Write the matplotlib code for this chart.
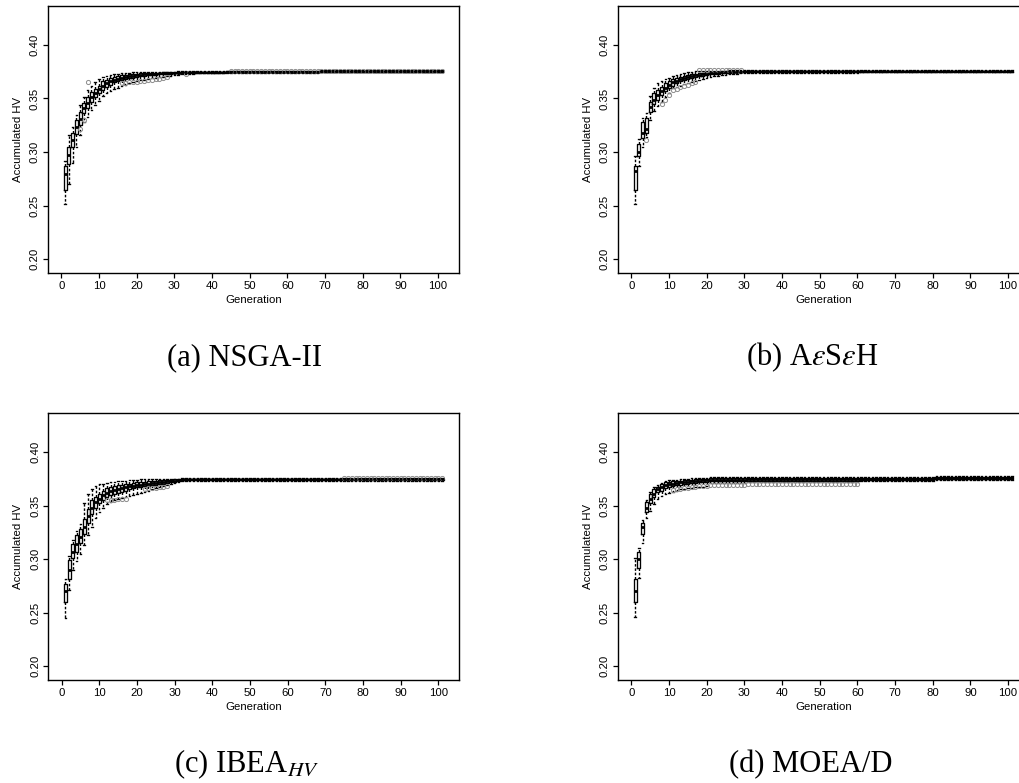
import numpy as np
import matplotlib
matplotlib.use("Agg")
import matplotlib.pyplot as plt

plt.rcParams['font.family'] = ['Liberation Sans', 'DejaVu Sans']
plt.rcParams['mathtext.fontset'] = 'stix'

# generations on the x axis, one box per generation
gens = np.arange(1, 102)
gen_ticks = [0, 10, 20, 30, 40, 50, 60, 70, 80, 90, 100]
hv_ticks = [0.20, 0.25, 0.30, 0.35, 0.40]

# box statistics of accumulated HV, in units of 1e-3
# (a) NSGA-II
nsga_lo = [
    252, 270, 290, 305, 316, 328, 333, 339, 344, 348,
    352, 355, 357, 359, 360, 362, 363, 364, 365, 366,
    367, 367, 368, 369, 369, 370, 370, 371, 371, 372,
    372, 372.5, 373, 373, 373, 373.5, 373.5, 373.5, 373.5, 373.5,
    373.5, 373.5, 373.5, 374, 374, 374, 374, 374, 374, 374,
    374, 374, 374, 374, 374, 374, 374, 374, 374, 374,
    374, 374, 374, 374, 374, 374, 374, 374, 374.5, 374.5,
    374.5, 374.5, 374.5, 374.5, 374.5, 374.5, 374.5, 374.5, 374.5, 374.5,
    374.5, 374.5, 374.5, 374.5, 374.5, 374.5, 374.5, 374.5, 374.5, 374.5,
    374.5, 374.5, 374.5, 374.5, 374.5, 374.5, 374.5, 374.5, 374.5, 374.5,
    374.5]
nsga_q1 = [
    265, 289, 305, 317, 325, 336, 341, 347, 351, 355,
    358, 361, 363, 365, 366, 367, 368, 369, 369, 370,
    371, 371, 372, 372, 372, 373, 373, 373, 373, 373.5,
    373.5, 373.5, 374, 374, 374, 374, 374, 374, 374, 374,
    374, 374, 374, 374.5, 374.5, 374.5, 374.5, 374.5, 374.5, 374.5,
    374.5, 374.5, 374.5, 374.5, 374.5, 374.5, 374.5, 374.5, 374.5, 374.5,
    374.5, 374.5, 374.5, 374.5, 374.5, 374.5, 374.5, 374.5, 375, 375,
    375, 375, 375, 375, 375, 375, 375, 375, 375, 375,
    375, 375, 375, 375, 375, 375, 375, 375, 375, 375,
    375, 375, 375, 375, 375, 375, 375, 375, 375, 375,
    375]
nsga_med = [
    280, 297, 311, 323, 331, 341, 346, 351, 355, 359,
    362, 364, 366, 367, 368, 369, 370, 371, 371, 372,
    372, 373, 373, 373, 373, 374, 374, 374, 374, 374,
    374, 374, 374.5, 374.5, 374.5, 374.5, 374.5, 374.5, 374.5, 374.5,
    374.5, 374.5, 374.5, 375, 375, 375, 375, 375, 375, 375,
    375, 375, 375, 375, 375, 375, 375, 375, 375, 375,
    375, 375, 375, 375, 375, 375, 375, 375, 375.5, 375.5,
    375.5, 375.5, 375.5, 375.5, 375.5, 375.5, 375.5, 375.5, 375.5, 375.5,
    375.5, 375.5, 375.5, 375.5, 375.5, 375.5, 375.5, 375.5, 375.5, 375.5,
    375.5, 375.5, 375.5, 375.5, 375.5, 375.5, 375.5, 375.5, 375.5, 375.5,
    375.5]
nsga_q3 = [
    287, 305, 318, 330, 337, 346, 351, 356, 359, 362,
    366, 367, 369, 370, 371, 372, 372, 373, 373, 373,
    374, 374, 374, 374, 374, 374, 374.5, 374.5, 375, 375,
    375, 375, 375, 375, 375, 375, 375, 375, 375, 375,
    375, 375, 375, 375.5, 375.5, 375.5, 375.5, 375.5, 375.5, 375.5,
    375.5, 375.5, 375.5, 375.5, 375.5, 375.5, 375.5, 375.5, 375.5, 375.5,
    375.5, 375.5, 375.5, 375.5, 375.5, 375.5, 375.5, 375.5, 376, 376,
    376, 376, 376, 376, 376, 376, 376, 376, 376, 376,
    376, 376, 376, 376, 376, 376, 376, 376, 376, 376,
    376, 376, 376, 376, 376, 376, 376, 376, 376, 376,
    376]
nsga_hi = [
    292, 316, 323, 335, 344, 351, 358, 362, 365, 368,
    370, 371, 372, 373, 373, 374, 374, 374, 375, 375,
    375, 375, 375, 375, 375, 375, 375, 375, 375, 375,
    375.5, 375.5, 375.5, 375.5, 375.5, 375.5, 375.5, 375.5, 375.5, 375.5,
    375.5, 375.5, 375.5, 376, 376, 376, 376, 376, 376, 376,
    376, 376, 376, 376, 376, 376, 376, 376, 376, 376,
    376, 376, 376, 376, 376, 376, 376, 376, 376.5, 376.5,
    376.5, 376.5, 376.5, 376.5, 376.5, 376.5, 376.5, 376.5, 376.5, 376.5,
    376.5, 376.5, 376.5, 376.5, 376.5, 376.5, 376.5, 376.5, 376.5, 376.5,
    376.5, 376.5, 376.5, 376.5, 376.5, 376.5, 376.5, 376.5, 376.5, 376.5,
    376.5]
nsga_out_gen = [
    5, 6, 7, 16, 17, 18, 19, 20, 21, 22, 23, 24, 25, 26, 27, 28, 33,
    45, 46, 47, 48, 49, 50, 51, 52, 53, 54, 55, 56, 57, 58, 59, 60,
    61, 62, 63, 64, 65, 66, 67, 68, 69, 70, 71, 72, 73, 74, 75, 76,
    77, 78, 79, 80, 81, 82, 83, 84, 85, 86, 87, 88, 89, 90, 91, 92,
    93, 94, 95, 96, 97, 98, 99, 100, 101]
nsga_out_val = [
    322, 330, 365, 364, 364.5, 365, 365, 365.5, 366, 366.5, 367, 367.5, 368, 368.5, 369, 370, 372.5,
    375.6, 375.6, 375.6, 375.6, 375.6, 375.6, 375.6, 375.6, 375.6, 375.6, 375.6, 375.6, 375.6, 375.6, 375.6, 375.6,
    375.6, 375.6, 375.6, 375.6, 375.6, 375.6, 375.6, 375.6, 375.6, 375.6, 375.6, 375.6, 375.6, 375.6, 375.6, 375.6,
    375.6, 375.6, 375.6, 375.6, 375.6, 375.6, 375.6, 375.6, 375.6, 375.6, 375.6, 375.6, 375.6, 375.6, 375.6, 375.6,
    375.6, 375.6, 375.6, 375.6, 375.6, 375.6, 375.6, 375.6, 375.6]

# (b) AeSeH
aeseh_lo = [
    252, 287, 305, 314, 330, 338, 343, 347, 351, 355,
    360, 361, 362, 363.5, 364.5, 365.5, 366.5, 367.5, 368, 369,
    370, 370.5, 371, 371.5, 372, 372.5, 373, 373, 373.5, 374,
    373.5, 373.5, 373.5, 373.5, 373.5, 373.5, 373.5, 373.5, 373.5, 373.5,
    373.5, 373.5, 373.5, 373.5, 373.5, 373.5, 373.5, 373.5, 373.5, 373.5,
    373.5, 373.5, 373.5, 373.5, 373.5, 373.5, 373.5, 373.5, 373.5, 373.5,
    374.5, 374.5, 374.5, 374.5, 374.5, 374.5, 374.5, 374.5, 374.5, 374.5,
    374.5, 374.5, 374.5, 374.5, 374.5, 374.5, 374.5, 374.5, 374.5, 374.5,
    374.5, 374.5, 374.5, 374.5, 374.5, 374.5, 374.5, 374.5, 374.5, 374.5,
    374.5, 374.5, 374.5, 374.5, 374.5, 374.5, 374.5, 374.5, 374.5, 374.5,
    374.5]
aeseh_q1 = [
    265, 296, 313, 318, 337, 345, 349, 353, 357, 360,
    362, 364, 366, 367, 368, 369, 370, 371, 371, 372,
    372.5, 373, 373, 373.5, 374, 374, 374.5, 374.5, 374.5, 375,
    375, 375, 375, 375, 375, 375, 375, 375, 375, 375,
    375, 375, 375, 375, 375, 375, 375, 375, 375, 375,
    375, 375, 375, 375, 375, 375, 375, 375, 375, 375,
    375, 375, 375, 375, 375, 375, 375, 375, 375, 375,
    375, 375, 375, 375, 375, 375, 375, 375, 375, 375,
    375, 375, 375, 375, 375, 375, 375, 375, 375, 375,
    375, 375, 375, 375, 375, 375, 375, 375, 375, 375,
    375]
aeseh_med = [
    282, 300, 318, 322, 342, 349, 353, 357, 360, 363,
    365, 366.5, 368, 369, 370, 371, 371.5, 372, 372.5, 373,
    373.5, 374, 374, 374.5, 374.5, 375, 375, 375, 375, 375.5,
    375.5, 375.5, 375.5, 375.5, 375.5, 375.5, 375.5, 375.5, 375.5, 375.5,
    375.5, 375.5, 375.5, 375.5, 375.5, 375.5, 375.5, 375.5, 375.5, 375.5,
    375.5, 375.5, 375.5, 375.5, 375.5, 375.5, 375.5, 375.5, 375.5, 375.5,
    375.5, 375.5, 375.5, 375.5, 375.5, 375.5, 375.5, 375.5, 375.5, 375.5,
    375.5, 375.5, 375.5, 375.5, 375.5, 375.5, 375.5, 375.5, 375.5, 375.5,
    375.5, 375.5, 375.5, 375.5, 375.5, 375.5, 375.5, 375.5, 375.5, 375.5,
    375.5, 375.5, 375.5, 375.5, 375.5, 375.5, 375.5, 375.5, 375.5, 375.5,
    375.5]
aeseh_q3 = [
    287, 308, 328, 332, 347, 355, 358, 361, 364, 366,
    368, 369, 370, 371, 372, 373, 373, 373.5, 374, 374.5,
    375, 375, 375, 375.5, 375.5, 375.5, 376, 376, 376, 376,
    376, 376, 376, 376, 376, 376, 376, 376, 376, 376,
    376, 376, 376, 376, 376, 376, 376, 376, 376, 376,
    376, 376, 376, 376, 376, 376, 376, 376, 376, 376,
    376, 376, 376, 376, 376, 376, 376, 376, 376, 376,
    376, 376, 376, 376, 376, 376, 376, 376, 376, 376,
    376, 376, 376, 376, 376, 376, 376, 376, 376, 376,
    376, 376, 376, 376, 376, 376, 376, 376, 376, 376,
    376]
aeseh_hi = [
    296, 312, 332, 336, 352, 360, 364, 366, 368, 369,
    371, 372, 373, 374, 374.5, 375, 375.5, 376, 376, 376,
    376, 376, 376, 376, 376, 376.5, 376.5, 376.5, 376.5, 376.5,
    376.5, 376.5, 376.5, 376.5, 376.5, 376.5, 376.5, 376.5, 376.5, 376.5,
    376.5, 376.5, 376.5, 376.5, 376.5, 376.5, 376.5, 376.5, 376.5, 376.5,
    376.5, 376.5, 376.5, 376.5, 376.5, 376.5, 376.5, 376.5, 376.5, 376.5,
    376.5, 376.5, 376.5, 376.5, 376.5, 376.5, 376.5, 376.5, 376.5, 376.5,
    376.5, 376.5, 376.5, 376.5, 376.5, 376.5, 376.5, 376.5, 376.5, 376.5,
    376.5, 376.5, 376.5, 376.5, 376.5, 376.5, 376.5, 376.5, 376.5, 376.5,
    376.5, 376.5, 376.5, 376.5, 376.5, 376.5, 376.5, 376.5, 376.5, 376.5,
    376.5]
aeseh_out_gen = [
    4, 8, 9, 10, 11, 12, 13, 14, 15, 16, 17,
    18, 19, 20, 21, 22, 23, 24, 25, 26, 27, 28, 29]
aeseh_out_val = [
    311, 345, 349, 353, 358, 359, 360.5, 362, 363, 364, 365,
    377, 377, 377, 377, 377, 377, 377, 377, 377, 377, 377, 377]

# (c) IBEA_HV
ibea_lo = [
    245, 271, 290, 298, 305, 313, 322, 330, 338, 344,
    348, 351, 353, 355, 356, 357, 358, 359, 360, 361,
    362, 363, 364, 365, 366, 367, 368, 369, 370, 371,
    372, 373, 373, 373, 373, 373, 373, 373, 373, 373,
    373, 373, 373, 373, 373, 373, 373, 373, 373, 373,
    373, 373, 373, 373, 373, 373, 373, 373, 373, 373,
    373, 373, 373, 373, 373, 373, 373, 373, 373, 373,
    373, 373, 373, 373, 373, 373, 373, 373, 373, 373,
    373, 373, 373, 373, 373, 373, 373, 373, 373, 373,
    373, 373, 373, 373, 373, 373, 373, 373, 373, 373,
    373]
ibea_q1 = [
    260, 281, 301, 307, 315, 323, 334, 342, 348, 352,
    355, 358, 360, 361, 362, 363, 364, 365, 366, 367,
    367.5, 368, 368.5, 369, 369, 370, 370.5, 371, 371.5, 372,
    373, 374, 374, 374, 374, 374, 374, 374, 374, 374,
    374, 374, 374, 374, 374, 374, 374, 374, 374, 374,
    374, 374, 374, 374, 374, 374, 374, 374, 374, 374,
    374, 374, 374, 374, 374, 374, 374, 374, 374, 374,
    374, 374, 374, 374, 374, 374, 374, 374, 374, 374,
    374, 374, 374, 374, 374, 374, 374, 374, 374, 374,
    374, 374, 374, 374, 374, 374, 374, 374, 374, 374,
    374]
ibea_med = [
    270, 290, 307, 314, 321, 330, 340, 348, 353, 356.5,
    359.5, 362, 363.5, 364.5, 365.5, 366.5, 367, 368, 368.5, 369,
    369.5, 370, 370.5, 371, 371, 372, 372, 372.5, 373, 373,
    374, 374.5, 374.5, 374.5, 374.5, 374.5, 374.5, 374.5, 374.5, 374.5,
    374.5, 374.5, 374.5, 374.5, 374.5, 374.5, 374.5, 374.5, 374.5, 374.5,
    374.5, 374.5, 374.5, 374.5, 374.5, 374.5, 374.5, 374.5, 374.5, 374.5,
    374.5, 374.5, 374.5, 374.5, 374.5, 374.5, 374.5, 374.5, 374.5, 374.5,
    374.5, 374.5, 374.5, 374.5, 374.5, 374.5, 374.5, 374.5, 374.5, 374.5,
    374.5, 374.5, 374.5, 374.5, 374.5, 374.5, 374.5, 374.5, 374.5, 374.5,
    374.5, 374.5, 374.5, 374.5, 374.5, 374.5, 374.5, 374.5, 374.5, 374.5,
    374.5]
ibea_q3 = [
    277, 299, 314, 322, 328, 337, 347, 355, 358, 361,
    364, 366, 367, 368, 369, 369.5, 370, 370.5, 371, 371.5,
    372, 372, 372.5, 373, 373, 373.5, 373.5, 374, 374, 374.5,
    374.5, 375, 375, 375, 375, 375, 375, 375, 375, 375,
    375, 375, 375, 375, 375, 375, 375, 375, 375, 375,
    375, 375, 375, 375, 375, 375, 375, 375, 375, 375,
    375, 375, 375, 375, 375, 375, 375, 375, 375, 375,
    375, 375, 375, 375, 375, 375, 375, 375, 375, 375,
    375, 375, 375, 375, 375, 375, 375, 375, 375, 375,
    375, 375, 375, 375, 375, 375, 375, 375, 375, 375,
    375]
ibea_hi = [
    281, 303, 318, 326, 333, 352, 361, 365, 368, 370,
    370.5, 371, 371.5, 372, 372.5, 373, 373, 373.5, 373.5, 374,
    374.5, 374.5, 374.5, 374.5, 374.5, 374.5, 374.5, 374.5, 374.5, 374.5,
    375, 375.5, 375.5, 375.5, 375.5, 375.5, 375.5, 375.5, 375.5, 375.5,
    375.5, 375.5, 375.5, 375.5, 375.5, 375.5, 375.5, 375.5, 375.5, 375.5,
    375.5, 375.5, 375.5, 375.5, 375.5, 375.5, 375.5, 375.5, 375.5, 375.5,
    375.5, 375.5, 375.5, 375.5, 375.5, 375.5, 375.5, 375.5, 375.5, 375.5,
    375.5, 375.5, 375.5, 375.5, 375.5, 375.5, 375.5, 375.5, 375.5, 375.5,
    375.5, 375.5, 375.5, 375.5, 375.5, 375.5, 375.5, 375.5, 375.5, 375.5,
    375.5, 375.5, 375.5, 375.5, 375.5, 375.5, 375.5, 375.5, 375.5, 375.5,
    375.5]
ibea_out_gen = [
    12, 13, 14, 15, 16, 17, 22, 23, 24, 25, 26, 27, 28,
    75, 76, 77, 78, 79, 80, 81, 82, 83, 84, 85, 86, 87, 88,
    89, 90, 91, 92, 93, 94, 95, 96, 97, 98, 99, 100, 101]
ibea_out_val = [
    355, 355, 355.5, 356, 356, 356.5, 365.5, 366, 366, 366.5, 367, 367.5, 368,
    375.5, 375.5, 375.5, 375.5, 375.5, 375.5, 375.5, 375.5, 375.5, 375.5, 375.5, 375.5, 375.5, 375.5,
    375.5, 375.5, 375.5, 375.5, 375.5, 375.5, 375.5, 375.5, 375.5, 375.5, 375.5, 375.5, 375.5]

# (d) MOEA/D
moead_lo = [
    246, 282, 315, 338, 345, 351, 356, 359, 361, 362,
    363, 364, 365, 365.5, 366, 366.5, 367, 367, 367.5, 368,
    371, 371, 371, 371, 371, 371, 371, 371, 371, 371,
    372, 372, 372, 372, 372, 372, 372, 372, 372, 372,
    372, 372, 372, 372, 372, 372, 372, 372, 372, 372,
    372, 372, 372, 372, 372, 372, 372, 372, 372, 372,
    372.5, 372.5, 372.5, 372.5, 372.5, 372.5, 372.5, 372.5, 372.5, 372.5,
    372.5, 372.5, 372.5, 372.5, 372.5, 372.5, 372.5, 372.5, 372.5, 372.5,
    373.5, 373.5, 373.5, 373.5, 373.5, 373.5, 373.5, 373.5, 373.5, 373.5,
    373.5, 373.5, 373.5, 373.5, 373.5, 373.5, 373.5, 373.5, 373.5, 373.5,
    373.5]
moead_q1 = [
    260, 292, 323, 344, 352, 358, 362.5, 364, 366.5, 367,
    368, 369, 369.5, 370, 370.5, 371, 371, 371.5, 372, 372,
    372.5, 372.5, 372.5, 372.5, 372.5, 372.5, 372.5, 372.5, 372.5, 372.5,
    373, 373, 373, 373, 373, 373, 373, 373, 373, 373,
    373, 373, 373, 373, 373, 373, 373, 373, 373, 373,
    373, 373, 373, 373, 373, 373, 373, 373, 373, 373,
    374, 374, 374, 374, 374, 374, 374, 374, 374, 374,
    374, 374, 374, 374, 374, 374, 374, 374, 374, 374,
    374.5, 374.5, 374.5, 374.5, 374.5, 374.5, 374.5, 374.5, 374.5, 374.5,
    374.5, 374.5, 374.5, 374.5, 374.5, 374.5, 374.5, 374.5, 374.5, 374.5,
    374.5]
moead_med = [
    270, 300, 330, 348, 356, 361, 365, 367, 369, 370,
    370.5, 371, 371.5, 372, 372, 372.5, 373, 373, 373.5, 373.5,
    374, 374, 374, 374, 374, 374, 374, 374, 374, 374,
    374.5, 374.5, 374.5, 374.5, 374.5, 374.5, 374.5, 374.5, 374.5, 374.5,
    374.5, 374.5, 374.5, 374.5, 374.5, 374.5, 374.5, 374.5, 374.5, 374.5,
    374.5, 374.5, 374.5, 374.5, 374.5, 374.5, 374.5, 374.5, 374.5, 374.5,
    375, 375, 375, 375, 375, 375, 375, 375, 375, 375,
    375, 375, 375, 375, 375, 375, 375, 375, 375, 375,
    375.5, 375.5, 375.5, 375.5, 375.5, 375.5, 375.5, 375.5, 375.5, 375.5,
    375.5, 375.5, 375.5, 375.5, 375.5, 375.5, 375.5, 375.5, 375.5, 375.5,
    375.5]
moead_q3 = [
    281, 307, 334, 353, 361, 365, 367.5, 370, 371.5, 372,
    372.5, 373, 373, 373.5, 374, 374, 374.5, 374.5, 375, 375,
    375.5, 375.5, 375.5, 375.5, 375.5, 375.5, 375.5, 375.5, 375.5, 375.5,
    375.5, 375.5, 375.5, 375.5, 375.5, 375.5, 375.5, 375.5, 375.5, 375.5,
    375.5, 375.5, 375.5, 375.5, 375.5, 375.5, 375.5, 375.5, 375.5, 375.5,
    375.5, 375.5, 375.5, 375.5, 375.5, 375.5, 375.5, 375.5, 375.5, 375.5,
    376, 376, 376, 376, 376, 376, 376, 376, 376, 376,
    376, 376, 376, 376, 376, 376, 376, 376, 376, 376,
    376.5, 376.5, 376.5, 376.5, 376.5, 376.5, 376.5, 376.5, 376.5, 376.5,
    376.5, 376.5, 376.5, 376.5, 376.5, 376.5, 376.5, 376.5, 376.5, 376.5,
    376.5]
moead_hi = [
    301, 310, 336, 355, 363, 367, 369, 371, 372.5, 373.5,
    374, 374, 374.5, 375, 375, 375.5, 375.5, 376, 376, 376,
    376.5, 376.5, 376.5, 376.5, 376.5, 376.5, 376.5, 376.5, 376.5, 376.5,
    377, 377, 377, 377, 377, 377, 377, 377, 377, 377,
    377, 377, 377, 377, 377, 377, 377, 377, 377, 377,
    377, 377, 377, 377, 377, 377, 377, 377, 377, 377,
    377, 377, 377, 377, 377, 377, 377, 377, 377, 377,
    377, 377, 377, 377, 377, 377, 377, 377, 377, 377,
    377.5, 377.5, 377.5, 377.5, 377.5, 377.5, 377.5, 377.5, 377.5, 377.5,
    377.5, 377.5, 377.5, 377.5, 377.5, 377.5, 377.5, 377.5, 377.5, 377.5,
    377.5]
moead_out_gen = [
    11, 12, 13, 14, 15, 16, 17, 18, 19, 20,
    21, 22, 23, 24, 25, 26, 27, 28, 29, 30,
    31, 32, 33, 34, 35, 36, 37, 38, 39, 40,
    41, 42, 43, 44, 45, 46, 47, 48, 49, 50,
    51, 52, 53, 54, 55, 56, 57, 58, 59, 60]
moead_out_val = [
    364.5, 365, 365.5, 366, 366.5, 367, 367.5, 368, 368, 368.5,
    369.5, 369.5, 369.5, 369.5, 369.5, 369.5, 369.5, 369.5, 369.5, 369.5,
    370, 370, 370, 370, 370, 370, 370, 370, 370, 370,
    370, 370, 370, 370, 370, 370, 370, 370, 370, 370,
    370, 370, 370, 370, 370, 370, 370, 370, 370, 370]

captions = ['(a) NSGA-II', r'(b) A$\varepsilon$S$\varepsilon$H',
            r'(c) IBEA$_{HV}$', '(d) MOEA/D']


def make_stats(lo, q1, med, q3, hi, out_gen, out_val):
    fliers = {g: [] for g in gens}
    for g, v in zip(out_gen, out_val):
        fliers[g].append(v / 1000)
    stats = []
    for i, g in enumerate(gens):
        stats.append(dict(whislo=lo[i] / 1000, q1=q1[i] / 1000, med=med[i] / 1000,
                          q3=q3[i] / 1000, whishi=hi[i] / 1000, fliers=fliers[g]))
    return stats


def draw_panel(ax, stats):
    ax.bxp(stats, positions=gens, widths=0.8, manage_ticks=False,
           boxprops=dict(color='black', linewidth=0.95),
           whiskerprops=dict(color='black', linewidth=1.0, linestyle=(0, (1.8, 1.3))),
           capprops=dict(color='black', linewidth=0.95),
           medianprops=dict(color='black', linewidth=2.0, solid_capstyle='butt'),
           flierprops=dict(marker='o', markerfacecolor='none', markeredgecolor='#8c8c8c',
                           markersize=3.0, markeredgewidth=0.7))
    ax.set_xlim(-3.54, 105.54)
    ax.set_ylim(0.187, 0.436)
    ax.set_xticks(gen_ticks)
    ax.set_yticks(hv_ticks)
    ax.set_yticklabels(['%.2f' % t for t in hv_ticks], rotation=90, va='center')
    ax.tick_params(direction='out', length=3.3, width=0.9, labelsize=8.2, pad=2.5)
    ax.set_xlabel('Generation', fontsize=8.2, labelpad=3)
    ax.set_ylabel('Accumulated HV', fontsize=8.2, labelpad=5)
    for s in ax.spines.values():
        s.set_linewidth(1.0)


fig = plt.figure(figsize=(10.19, 7.83), dpi=100)
fig.set_facecolor('white')

panels = [
    ([0.0471, 0.6510, 0.4033, 0.3410],
     make_stats(nsga_lo, nsga_q1, nsga_med, nsga_q3, nsga_hi, nsga_out_gen, nsga_out_val)),
    ([0.6065, 0.6510, 0.4033, 0.3410],
     make_stats(aeseh_lo, aeseh_q1, aeseh_med, aeseh_q3, aeseh_hi, aeseh_out_gen, aeseh_out_val)),
    ([0.0474, 0.1315, 0.4033, 0.3405],
     make_stats(ibea_lo, ibea_q1, ibea_med, ibea_q3, ibea_hi, ibea_out_gen, ibea_out_val)),
    ([0.6065, 0.1315, 0.4033, 0.3405],
     make_stats(moead_lo, moead_q1, moead_med, moead_q3, moead_hi, moead_out_gen, moead_out_val)),
]
for rect, stats in panels:
    ax = fig.add_axes(rect)
    draw_panel(ax, stats)

# sub-figure captions under each panel
caption_pos = [(245, 365), (812, 365), (247, 772), (811, 772)]
for (px, py), cap in zip(caption_pos, captions):
    fig.text(px / 1019, 1 - py / 783, cap, ha='center', va='baseline',
             fontsize=22, family=['Liberation Serif', 'DejaVu Serif'])

fig.savefig('out.png', dpi=100)
